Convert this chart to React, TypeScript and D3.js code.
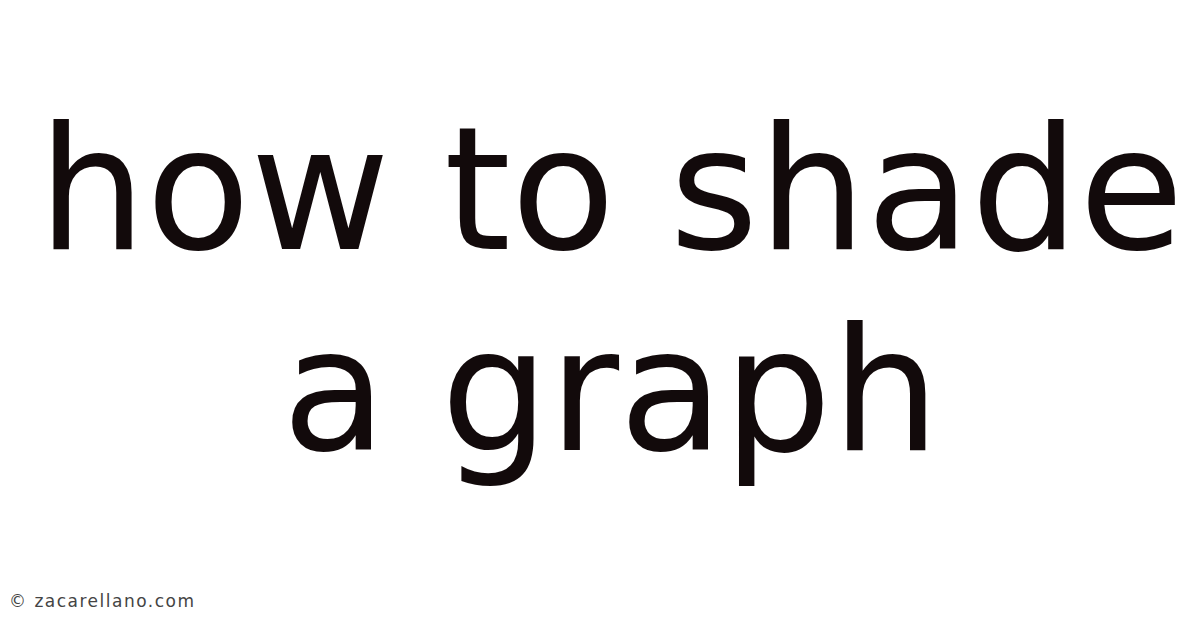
import React, { useEffect, useRef } from "react";
import * as d3 from "d3";

const titleLines: string[] = ["how to shade", "a graph"];
const lineBaselines: number[] = [249, 450];
const watermark: string = "© zacarellano.com";

export default function App() {
  const ref = useRef<SVGSVGElement | null>(null);

  useEffect(() => {
    const svg = d3.select(ref.current);
    svg.selectAll("*").remove();
    svg
      .append("rect")
      .attr("width", 1200)
      .attr("height", 628)
      .attr("fill", "#ffffff");

    svg
      .selectAll("text.title")
      .data(titleLines)
      .enter()
      .append("text")
      .attr("class", "title")
      .attr("x", 611)
      .attr("y", (_d, i) => lineBaselines[i])
      .attr("text-anchor", "middle")
      .attr("font-family", "DejaVu Sans")
      .attr("font-size", 170.5)
      .attr("fill", "#120a0b")
      .text((d) => d);

    svg
      .append("text")
      .attr("x", 9)
      .attr("y", 607)
      .attr("font-family", "DejaVu Sans")
      .attr("font-size", 17)
      .attr("letter-spacing", 1.5)
      .attr("fill", "#444444")
      .text(watermark);
  }, []);

  return (
    <svg
      ref={ref}
      width={1200}
      height={628}
      style={{ position: "absolute", left: 0, top: 0 }}
    />
  );
}
